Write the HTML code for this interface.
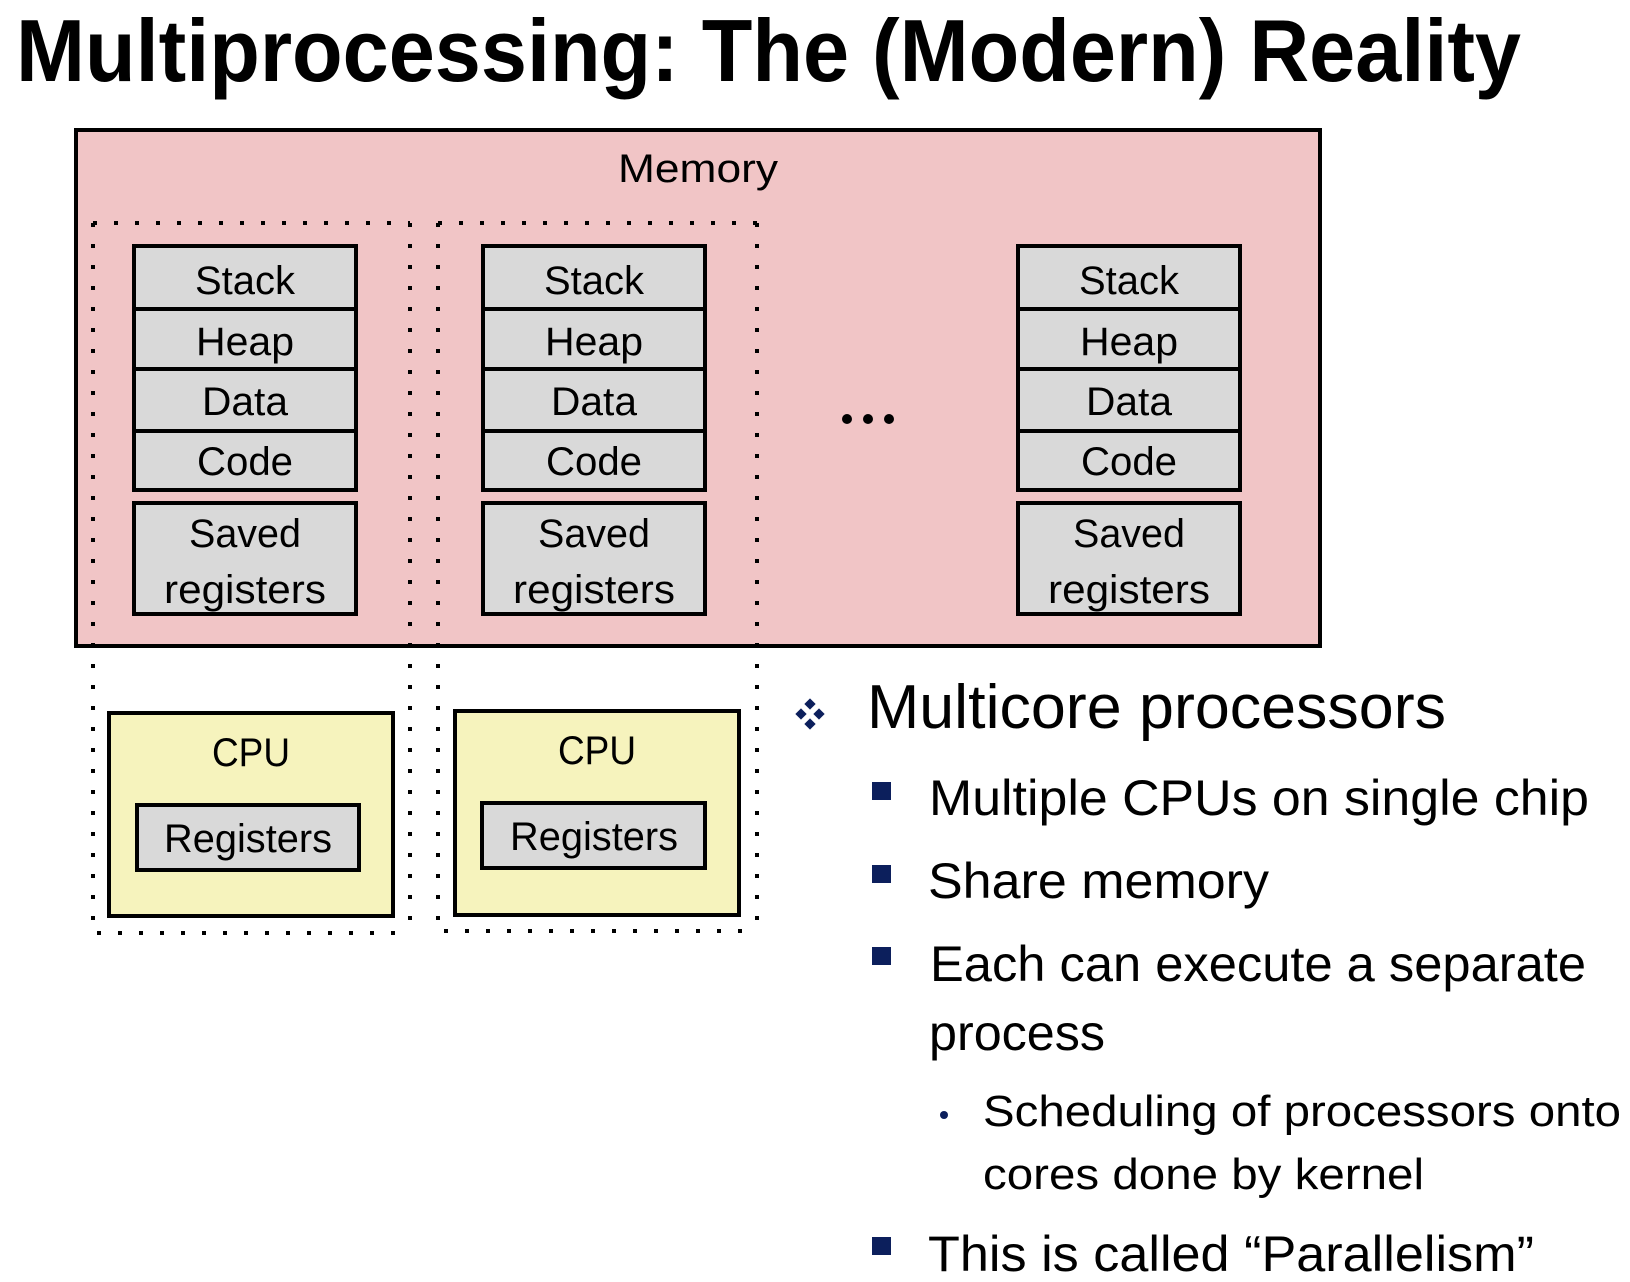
<!DOCTYPE html>
<html><head><meta charset="utf-8"><style>
html,body{margin:0;padding:0;background:#fff;}
svg{display:block;}
text{font-family:"Liberation Sans",sans-serif;}
</style></head><body>
<svg width="1630" height="1282" viewBox="0 0 1630 1282" xmlns="http://www.w3.org/2000/svg">
<text x="16" y="81" font-size="88" font-weight="bold" textLength="1505" lengthAdjust="spacingAndGlyphs">Multiprocessing: The (Modern) Reality</text>
<rect x="76" y="130" width="1244" height="516" fill="#f1c5c6" stroke="#000" stroke-width="4"/>
<text x="698" y="182" font-size="40" text-anchor="middle" textLength="160" lengthAdjust="spacingAndGlyphs">Memory</text>
<g fill="none" stroke="#000" stroke-width="4" stroke-dasharray="4 17">
<path d="M93 223 H410 M93 223 V933 H410 M410 223 V933"/>
<path d="M438 223 H757 M438 223 V931 H757 M757 223 V931"/>
</g>
<g font-size="40" text-anchor="middle">
<g id="c1">
<rect x="134" y="246" width="222" height="63" fill="#d9d9d9" stroke="#000" stroke-width="4"/>
<rect x="134" y="309" width="222" height="60" fill="#d9d9d9" stroke="#000" stroke-width="4"/>
<rect x="134" y="369" width="222" height="62" fill="#d9d9d9" stroke="#000" stroke-width="4"/>
<rect x="134" y="431" width="222" height="59" fill="#d9d9d9" stroke="#000" stroke-width="4"/>
<rect x="134" y="503" width="222" height="111" fill="#d9d9d9" stroke="#000" stroke-width="4"/>
<text x="245" y="294" textLength="100" lengthAdjust="spacingAndGlyphs">Stack</text>
<text x="245" y="355" textLength="98" lengthAdjust="spacingAndGlyphs">Heap</text>
<text x="245" y="415" textLength="86" lengthAdjust="spacingAndGlyphs">Data</text>
<text x="245" y="475" textLength="96" lengthAdjust="spacingAndGlyphs">Code</text>
<text x="245" y="547" textLength="112" lengthAdjust="spacingAndGlyphs">Saved</text>
<text x="245" y="603" textLength="162" lengthAdjust="spacingAndGlyphs">registers</text>
</g>
<use href="#c1" x="349"/>
<use href="#c1" x="884"/>
<rect x="109" y="713" width="284" height="203" fill="#f6f3bd" stroke="#000" stroke-width="4"/>
<text x="251" y="766" textLength="78" lengthAdjust="spacingAndGlyphs">CPU</text>
<rect x="137" y="805" width="222" height="65" fill="#d9d9d9" stroke="#000" stroke-width="4"/>
<text x="248" y="852" textLength="168" lengthAdjust="spacingAndGlyphs">Registers</text>
<rect x="455" y="711" width="284" height="204" fill="#f6f3bd" stroke="#000" stroke-width="4"/>
<text x="597" y="764" textLength="78" lengthAdjust="spacingAndGlyphs">CPU</text>
<rect x="482" y="803" width="223" height="65" fill="#d9d9d9" stroke="#000" stroke-width="4"/>
<text x="594" y="850" textLength="168" lengthAdjust="spacingAndGlyphs">Registers</text>
</g>
<g fill="#000"><circle cx="847" cy="419" r="5"/><circle cx="868" cy="419" r="5"/><circle cx="889" cy="419" r="5"/></g>
<g fill="#0c1f5c">
<rect x="806" y="700" width="8" height="8" transform="rotate(45 810 704)"/>
<rect x="806" y="720" width="8" height="8" transform="rotate(45 810 724)"/>
<rect x="797" y="710" width="8" height="8" transform="rotate(45 801 714)"/>
<rect x="815" y="710" width="8" height="8" transform="rotate(45 819 714)"/>
<rect x="872" y="782" width="19" height="18"/>
<rect x="872" y="865" width="19" height="18"/>
<rect x="872" y="947" width="19" height="18"/>
<rect x="872" y="1237" width="19" height="18"/>
<circle cx="944" cy="1115" r="4"/>
</g>
<text x="867" y="728" font-size="62" textLength="579" lengthAdjust="spacingAndGlyphs">Multicore processors</text>
<g font-size="50">
<text x="929" y="815" textLength="660" lengthAdjust="spacingAndGlyphs">Multiple CPUs on single chip</text>
<text x="928" y="898" textLength="341" lengthAdjust="spacingAndGlyphs">Share memory</text>
<text x="930" y="981" textLength="656" lengthAdjust="spacingAndGlyphs">Each can execute a separate</text>
<text x="929" y="1050" textLength="176" lengthAdjust="spacingAndGlyphs">process</text>
<text x="928" y="1271" textLength="606" lengthAdjust="spacingAndGlyphs">This is called “Parallelism”</text>
</g>
<g font-size="44">
<text x="983" y="1126" textLength="638" lengthAdjust="spacingAndGlyphs">Scheduling of processors onto</text>
<text x="983" y="1189" textLength="441" lengthAdjust="spacingAndGlyphs">cores done by kernel</text>
</g>
</svg>
</body></html>
